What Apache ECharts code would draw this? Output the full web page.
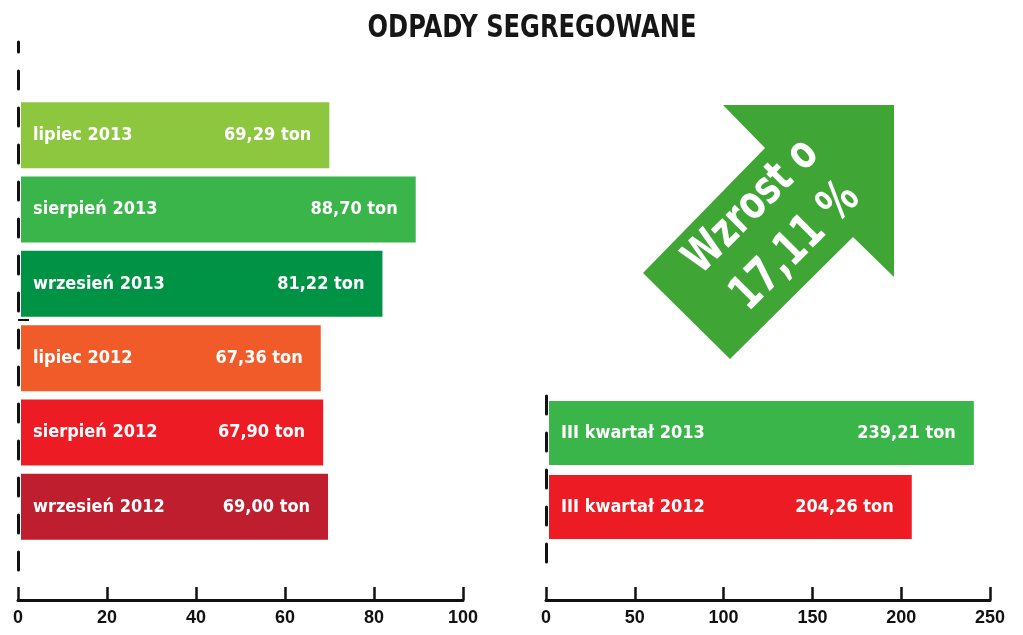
<!DOCTYPE html>
<html>
<head>
<meta charset="utf-8">
<script src="https://cdn.jsdelivr.net/npm/echarts@6/dist/echarts.min.js"></script>
<style>
  html, body { margin: 0; padding: 0; background: #fff; }
  #chart { width: 1023px; height: 635px; }
</style>
</head>
<body>
<div id="chart"></div>
<script>
// miesięczne odpady segregowane (tony)
const monthCats = ['lipiec 2013', 'sierpień 2013', 'wrzesień 2013', 'lipiec 2012', 'sierpień 2012', 'wrzesień 2012'];
const monthVals = [69.29, 88.70, 81.22, 67.36, 67.90, 69.00];
const monthColors = ['#8dc63f', '#39b54a', '#009245', '#f15a29', '#ed1c24', '#be1e2d'];

// kwartały
const quarterCats = ['III kwartał 2013', 'III kwartał 2012'];
const quarterVals = [239.21, 204.26];
const quarterColors = ['#39b54a', '#ed1c24'];

// osie
const monthAxis = { min: 0, max: 100, interval: 20 };
const quarterAxis = { min: 0, max: 250, interval: 50 };

const growthText = ['Wzrost o', '17,11 %'];

const condFont = '"Liberation Sans Narrow", "DejaVu Sans Condensed", sans-serif';
const fmtTon = v => v.toFixed(2).replace('.', ',') + ' ton';

const chart = echarts.init(document.getElementById('chart'));

// wspólne ustawienia osi widocznych
function shownXAxis(gridIndex, range, offset) {
    return {
        type: 'value', gridIndex: gridIndex,
        min: range.min, max: range.max, interval: range.interval,
        offset: offset,
        axisLine: { show: true, onZero: false, lineStyle: { color: '#111', width: 3 } },
        axisTick: { show: true, inside: true, length: 13, lineStyle: { color: '#111', width: 2.5 } },
        axisLabel: { color: '#111', fontSize: 18, fontWeight: 'bold', fontFamily: 'Liberation Sans', margin: 9 },
        splitLine: { show: false }
    };
}
function hiddenXAxis(gridIndex, range) {
    return { type: 'value', gridIndex: gridIndex, min: range.min, max: range.max, show: false, splitLine: { show: false } };
}
function dashedYAxis(gridIndex) {
    return {
        type: 'value', gridIndex: gridIndex, min: 0, max: 1,
        axisLine: { show: true, onZero: false, lineStyle: { color: '#111', width: 3, type: [18, 19] } },
        axisTick: { show: false }, axisLabel: { show: false }, splitLine: { show: false }
    };
}
function catYAxis(gridIndex, cats) {
    return { type: 'category', gridIndex: gridIndex, data: cats, inverse: true, show: false };
}

function barSeries(axisIdx, cats, vals, colors, width) {
    const nameLabel = {
        show: true, position: 'insideLeft', distance: 12, formatter: '{b}',
        color: '#fff', fontSize: 18, fontWeight: 'bold', fontFamily: condFont
    };
    const valueLabel = {
        show: true, position: 'insideRight', distance: 18,
        formatter: p => fmtTon(p.value),
        color: '#fff', fontSize: 18, fontWeight: 'bold', fontFamily: condFont
    };
    return [
        {
            type: 'bar', xAxisIndex: axisIdx, yAxisIndex: axisIdx, barWidth: width,
            data: vals.map((v, i) => ({ value: v, itemStyle: { color: colors[i] } })),
            label: nameLabel
        },
        {
            type: 'bar', xAxisIndex: axisIdx, yAxisIndex: axisIdx, barWidth: width, barGap: '-100%',
            data: vals, itemStyle: { color: 'rgba(0,0,0,0)' }, label: valueLabel
        }
    ];
}

const option = {
    animation: false,
    backgroundColor: '#fff',
    grid: [
        { left: 18, width: 445, top: 42, height: 528 },   // osie lewe
        { left: 21, width: 445, top: 98, height: 446 },   // słupki lewe
        { left: 546, width: 444, top: 393, height: 169 }, // osie prawe
        { left: 549, width: 444, top: 396, height: 148 }  // słupki prawe
    ],
    xAxis: [
        shownXAxis(0, monthAxis, 30),
        hiddenXAxis(1, monthAxis),
        shownXAxis(2, quarterAxis, 38),
        hiddenXAxis(3, quarterAxis)
    ],
    yAxis: [
        dashedYAxis(0),
        catYAxis(1, monthCats),
        dashedYAxis(2),
        catYAxis(3, quarterCats)
    ],
    series: [].concat(
        barSeries(1, monthCats, monthVals, monthColors, 66),
        barSeries(3, quarterCats, quarterVals, quarterColors, 64)
    ),
    graphic: [
        {
            type: 'text', x: 532, y: 29, scaleX: 0.84,
            style: {
                text: 'ODPADY SEGREGOWANE', fill: '#161616',
                fontSize: 32, fontWeight: 'bold', fontFamily: condFont,
                align: 'center', verticalAlign: 'middle', textAlign: 'center', textVerticalAlign: 'middle'
            }
        },
        {
            type: 'line', shape: { x1: 18, y1: 320, x2: 29, y2: 320 },
            style: { stroke: '#111', lineWidth: 2 }
        },
        {
            type: 'polygon',
            shape: { points: [[894, 105], [723, 105], [765, 148], [643, 273], [730, 359], [853, 237], [894, 277]] },
            style: { fill: '#3fa535' }
        },
        {
            type: 'text', x: 752, y: 207, rotation: Math.PI / 4, scaleX: 0.82,
            style: {
                text: growthText[0], fill: '#fff', fontSize: 46, fontWeight: 'bold', fontFamily: condFont,
                x: 0, y: 0, align: 'center', verticalAlign: 'middle', textAlign: 'center', textVerticalAlign: 'middle'
            }
        },
        {
            type: 'text', x: 796, y: 247, rotation: Math.PI / 4, scaleX: 0.82,
            style: {
                text: growthText[1], fill: '#fff', fontSize: 48, fontWeight: 'bold', fontFamily: condFont,
                x: 0, y: 0, align: 'center', verticalAlign: 'middle', textAlign: 'center', textVerticalAlign: 'middle'
            }
        }
    ]
};

chart.setOption(option);
</script>
</body>
</html>
